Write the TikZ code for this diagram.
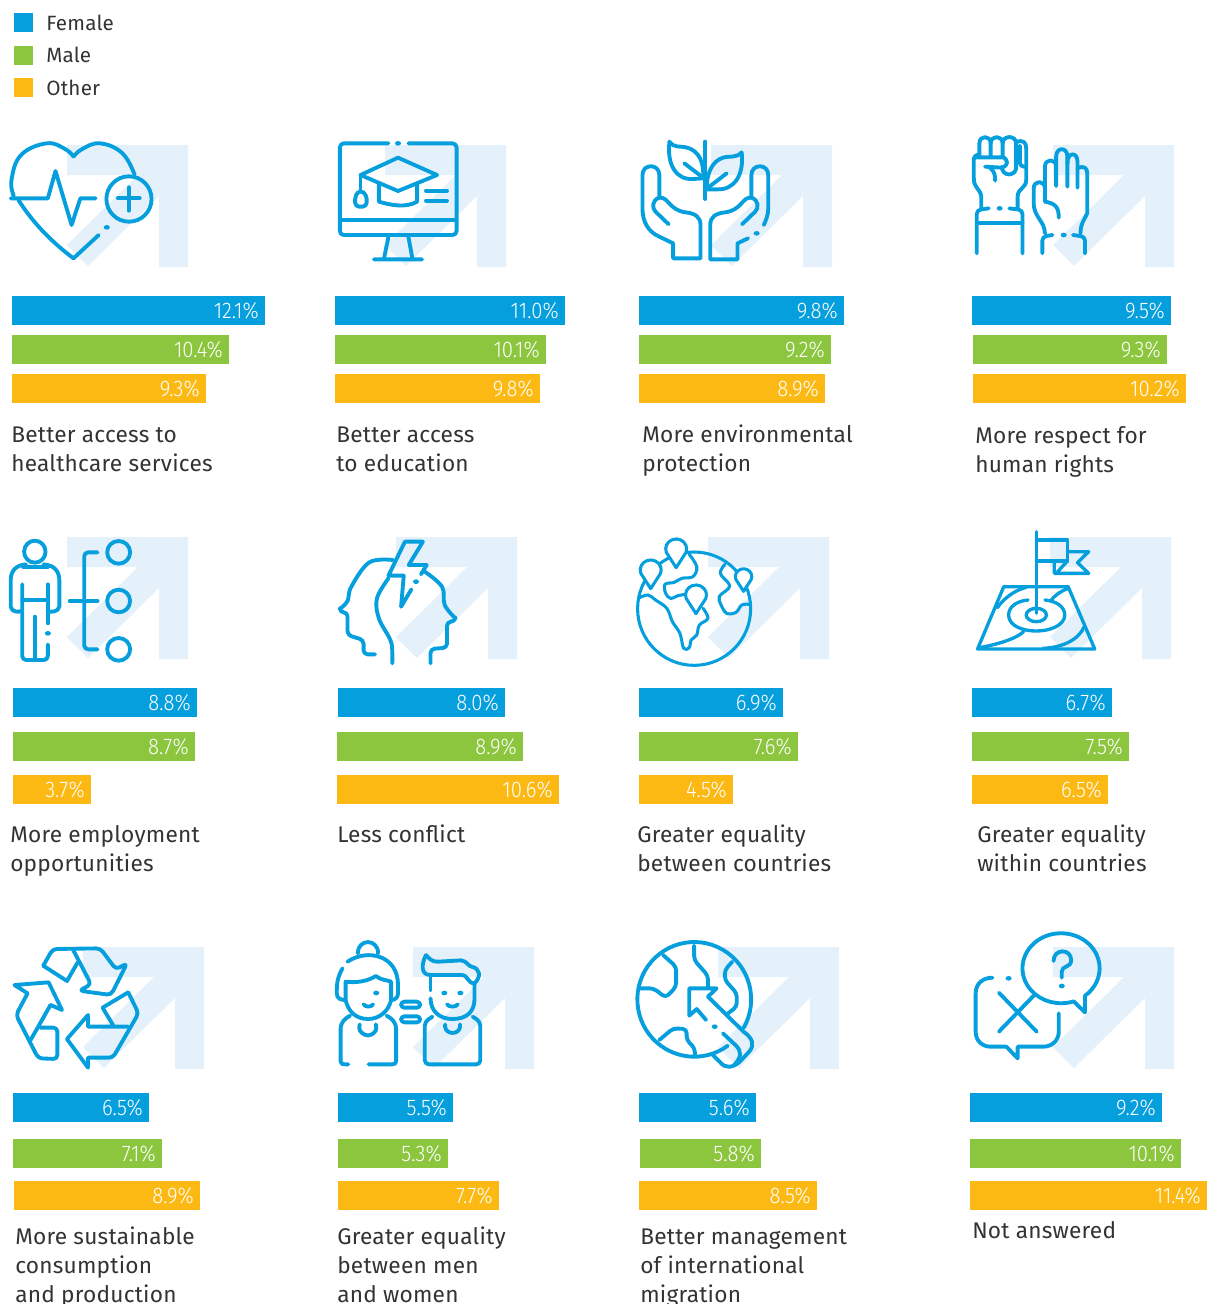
\documentclass[tikz,border=0pt]{standalone}
\usepackage{fontspec}
\setmainfont{Fira Sans}[LetterSpace=1]
\newfontfamily\pctfont{Fira Sans Light}[FakeStretch=0.9]
\definecolor{cblue}{HTML}{069FDE}
\definecolor{cgreen}{HTML}{8CC63F}
\definecolor{corange}{HTML}{FDB913}
\definecolor{cback}{HTML}{E5F1FA}
\definecolor{ctext}{HTML}{333333}
\tikzset{
 ico/.style={draw=cblue,line width=2.9pt,line cap=round,line join=round},
 rc/.style={rounded corners=3pt},
 pct/.style={text=white,inner sep=0pt,font=\pctfont\fontsize{17}{18}\selectfont},
 lbl/.style={text=ctext,inner sep=0pt,align=left,font=\fontsize{17}{21.75}\selectfont},
 leg/.style={text=ctext,inner sep=0pt,font=\fontsize{15.5}{18}\selectfont},
 z1/.style={shift={(0,#1)},x=0.28703pt,y=-0.25pt},
 z2/.style={shift={(620,#1)},x=0.28079pt,y=-0.25pt},
}
\newcommand{\bgarrow}[2]{\fill[cback,shift={(#1,#2)}] (0,0)--(121,0)--(121,122)--(92,122)--(92,51)--(21,121)--(0,100)--(71,30)--(0,30)--cycle;}
\newcommand{\pctbar}[6]{\fill[#1] (#2,#4) rectangle (#3,#4+29);\node[pct,anchor=base east] (#6) at (#3-6,#4+22) {#5};}
\newcommand{\lbltext}[4]{\node[lbl,anchor=north west] (#1) at (#2-1,#3-18.67) {\rule{0pt}{14pt}#4};}
\newcommand{\mappin}[4]{\draw[ico,fill=white] (#1,#2+#4) -- (#1-0.94*#3,#2+0.36*#3) arc[start angle=160,end angle=380,x radius=#3,y radius=#3*1.07] -- cycle;}
\newcommand{\idot}[2]{\fill[cblue] (#1,#2) ellipse[x radius=8,y radius=7];}
\begin{document}
\begin{tikzpicture}[x=0.75pt,y=-0.75pt]
\useasboundingbox (0,0) rectangle (1207,1304);
\clip (0,0) rectangle (1207,1304);
% legend
\fill[cblue] (14,13) rectangle (33,32);
\fill[cgreen] (14,46) rectangle (33,65);
\fill[corange] (14,78) rectangle (33,97);
\node[leg,anchor=base west] (lf) at (46,30) {Female};
\node[leg,anchor=base west] (lm) at (46,62) {Male};
\node[leg,anchor=base west] (lo) at (46,95) {Other};
% arrows
\bgarrow{67}{145}\bgarrow{385}{145}\bgarrow{711}{145}\bgarrow{1053}{145}
\bgarrow{67}{537}\bgarrow{396}{537}\bgarrow{708}{537}\bgarrow{1050}{537}
\bgarrow{83}{947}\bgarrow{413}{947}\bgarrow{718}{947}\bgarrow{1053}{947}
% row 1
\pctbar{cblue}{12}{265}{296}{12.1\%}{a1}\pctbar{cgreen}{12}{229}{335}{10.4\%}{a2}\pctbar{corange}{12}{206}{374}{9.3\%}{a3}
\pctbar{cblue}{335}{565}{296}{11.0\%}{b1}\pctbar{cgreen}{335}{546}{335}{10.1\%}{b2}\pctbar{corange}{335}{540}{374}{9.8\%}{b3}
\pctbar{cblue}{639}{844}{296}{9.8\%}{c1}\pctbar{cgreen}{639}{831}{335}{9.2\%}{c2}\pctbar{corange}{639}{825}{374}{8.9\%}{c3}
\pctbar{cblue}{972}{1171}{296}{9.5\%}{d1}\pctbar{cgreen}{973}{1167}{335}{9.3\%}{d2}\pctbar{corange}{973}{1186}{374}{10.2\%}{d3}
% row 2
\pctbar{cblue}{13}{197}{688}{8.8\%}{e1}\pctbar{cgreen}{13}{195}{732}{8.7\%}{e2}\pctbar{corange}{13}{91}{775}{3.7\%}{e3}
\pctbar{cblue}{338}{505}{688}{8.0\%}{f1}\pctbar{cgreen}{337}{523}{732}{8.9\%}{f2}\pctbar{corange}{337}{559}{775}{10.6\%}{f3}
\pctbar{cblue}{639}{783}{688}{6.9\%}{g1}\pctbar{cgreen}{639}{798}{732}{7.6\%}{g2}\pctbar{corange}{639}{733}{775}{4.5\%}{g3}
\pctbar{cblue}{972}{1112}{688}{6.7\%}{h1}\pctbar{cgreen}{972}{1129}{732}{7.5\%}{h2}\pctbar{corange}{972}{1108}{775}{6.5\%}{h3}
% row 3
\pctbar{cblue}{13}{149}{1093}{6.5\%}{i1}\pctbar{cgreen}{13}{162}{1139}{7.1\%}{i2}\pctbar{corange}{14}{200}{1181}{8.9\%}{i3}
\pctbar{cblue}{338}{453}{1093}{5.5\%}{j1}\pctbar{cgreen}{338}{448}{1139}{5.3\%}{j2}\pctbar{corange}{338}{499}{1181}{7.7\%}{j3}
\pctbar{cblue}{639}{756}{1093}{5.6\%}{k1}\pctbar{cgreen}{640}{761}{1139}{5.8\%}{k2}\pctbar{corange}{639}{817}{1181}{8.5\%}{k3}
\pctbar{cblue}{970}{1162}{1093}{9.2\%}{l1}\pctbar{cgreen}{970}{1181}{1139}{10.1\%}{l2}\pctbar{corange}{970}{1207}{1181}{11.4\%}{l3}
% labels
\lbltext{ta}{12}{442}{Better access to\\healthcare services}
\lbltext{tb}{337}{442}{Better access\\to education}
\lbltext{tc}{643}{442}{More environmental\\protection}
\lbltext{td}{976}{443}{More respect for\\human rights}
\lbltext{te}{11}{842}{More employment\\opportunities}
\lbltext{tf}{338}{842}{Less conflict}
\lbltext{tg}{638}{842}{Greater equality\\between countries}
\lbltext{th}{978}{842}{Greater equality\\within countries}
\lbltext{ti}{16}{1244}{More sustainable\\consumption\\and production}
\lbltext{tj}{338}{1244}{Greater equality\\between men\\and women}
\lbltext{tk}{641}{1244}{Better management\\of international\\migration}
\lbltext{tl}{973}{1238}{Not answered}
% icon 1 heart
\begin{scope}[z1=125]
\draw[ico] plot[smooth,tension=.7] coordinates {(36,213)(30,165)(55,90)(122,55)(170,72)(192,95)};
\draw[ico] plot[smooth,tension=.7] coordinates {(192,95)(215,72)(262,55)(320,85)(352,150)};
\draw[ico] (48,225) .. controls (90,300) and (140,355) .. (192,400) -- (258,330);
\idot{279}{307}
\draw[ico] (28,220)--(125,220)--(145,138)--(187,300)--(210,220)--(250,220);
\draw[ico] (337,222) ellipse[x radius=59,y radius=68];
\draw[ico] (308,220)--(365,220) (337,187)--(337,257);
% icon 2 monitor
\draw[ico,rc] (1015,55)--(888,55)--(888,330)--(1193,330)--(1193,55)--(1067,55);
\idot{1040}{55}
\draw[ico] (888,285)--(1193,285) (1015,335)--(1003,403) (1067,335)--(1078,403) (977,403)--(1103,403);
\draw[ico] (1040,98)--(1142,150)--(1040,198)--(942,150)--cycle;
\draw[ico] (990,178)--(990,230) .. controls (1020,240) and (1060,250) .. (1090,230) -- (1090,178);
\draw[ico] (942,150)--(942,195);
\draw[ico,rc] (942,195)--(928,210)--(928,245)--(958,245)--(958,210)--cycle;
\draw[ico] (1113,197)--(1168,197) (1113,227)--(1168,227);
\end{scope}
% icon 3 hands, 4 fists
\begin{scope}[z2=125]
\draw[ico] (213,400)--(142,400)--(142,355)--(105,335) .. controls (75,320) and (60,290) .. (60,250) -- (60,150) .. controls (60,115) and (105,115) .. (105,150) -- (105,215);
\draw[ico] (105,218) .. controls (85,225) and (85,250) .. (95,260) -- (130,298);
\draw[ico] (105,218) .. controls (130,215) and (130,255) .. (175,262) .. controls (200,265) and (215,275) .. (215,300) -- (215,400);
\draw[ico] (241,400) -- (241,300) .. controls (241,275) and (256,265) .. (281,262) .. controls (326,255) and (326,215) .. (351,218) -- (351,150) .. controls (351,115) and (396,115) .. (396,150) -- (396,250) .. controls (396,270) and (390,285) .. (384,300);
\draw[ico] (351,218) .. controls (371,225) and (371,250) .. (361,260) -- (326,298);
\draw[ico] (241,403)--(314,403)--(314,355)--(342,340);
\idot{365}{325}
\draw[ico] (228,50)--(228,222);
\draw[ico] (132,50) .. controls (145,70) and (160,62) .. (180,68) .. controls (210,78) and (225,110) .. (222,160) -- (195,162) .. controls (150,165) and (125,120) .. (132,50);
\draw[ico] (172,115)--(222,158);
\draw[ico] (325,82) .. controls (310,100) and (295,92) .. (275,98) .. controls (245,108) and (230,150) .. (232,193) -- (260,193) .. controls (305,195) and (332,150) .. (325,82);
\draw[ico] (285,145)--(235,188);
% fists
\draw[ico,rc] (953,385)--(953,255)--(985,250);
\draw[ico,rc] (1040,250)--(1075,255)--(1075,385);
\draw[ico] (953,293)--(1075,293);
\idot{1014}{250}
\draw[ico] (965,248)--(965,215) .. controls (962,190) and (945,190) .. (945,160) -- (945,105) .. controls (945,95) and (950,90) .. (960,88);
\draw[ico] (960,92)--(960,55) .. controls (960,30) and (990,30) .. (990,55) -- (990,92);
\draw[ico] (990,55) .. controls (990,30) and (1022,30) .. (1022,55) -- (1022,92);
\draw[ico] (1022,55) .. controls (1022,30) and (1058,30) .. (1058,55) -- (1058,130) .. controls (1055,155) and (1020,155) .. (1020,125);
\draw[ico] (1060,50) .. controls (1075,45) and (1085,50) .. (1085,70) -- (1085,165) .. controls (1085,190) and (1062,190) .. (1062,215) -- (1062,248);
\draw[ico,rc] (1068,62)--(1068,125)--(1085,125);
\draw[ico] (948,97)--(1025,97) .. controls (1035,105) and (1040,120) .. (1020,128) -- (975,125);
\draw[ico] (990,130) .. controls (1000,140) and (1002,150) .. (1002,167);
% right hand
\draw[ico,rc] (1128,385)--(1128,335)--(1155,330);
\draw[ico,rc] (1210,330)--(1242,335)--(1242,385);
\idot{1185}{330}
\draw[ico] (1135,325) .. controls (1135,290) and (1105,275) .. (1105,235) -- (1105,190) .. controls (1105,165) and (1135,165) .. (1135,190) -- (1135,230) .. controls (1165,235) and (1172,250) .. (1172,278);
\draw[ico] (1135,190)--(1135,125) .. controls (1135,100) and (1165,100) .. (1165,125) -- (1165,183);
\draw[ico] (1165,125)--(1165,95) .. controls (1165,65) and (1195,65) .. (1195,95) -- (1195,185);
\draw[ico] (1195,115) .. controls (1195,80) and (1222,80) .. (1222,110) -- (1222,188);
\draw[ico] (1222,130) .. controls (1240,120) and (1248,130) .. (1248,145) -- (1248,265) .. controls (1240,285) and (1230,295) .. (1230,325);
\end{scope}
% icon 5 person, 6 heads
\begin{scope}[z1=525]
\draw[ico] (91,80) ellipse[x radius=28,y radius=33];
\draw[ico] (68,118) .. controls (40,120) and (28,140) .. (28,165) -- (28,245) .. controls (30,262) and (50,262) .. (55,258);
\draw[ico] (114,118) .. controls (142,120) and (155,140) .. (155,165) -- (155,245) .. controls (152,262) and (132,262) .. (125,258);
\draw[ico] (60,125)--(125,125);
\draw[ico,rc] (58,178)--(58,405)--(125,405)--(125,358);
\draw[ico] (125,178)--(125,295) (58,225)--(125,225) (91,275)--(91,405);
\idot{125}{325}
\draw[ico,rc] (255,82)--(220,82)--(220,373)--(255,373);
\draw[ico] (182,228)--(255,228);
\draw[ico] (310,82) ellipse[x radius=30,y radius=34];
\draw[ico] (310,228) ellipse[x radius=30,y radius=34];
\draw[ico] (310,373) ellipse[x radius=30,y radius=34];
% heads
\draw[ico] (1100,148)--(1115,120)--(1068,120)--(1105,50)--(1058,50)--(1015,152)--(1055,152)--(1048,245)--(1075,193);
\idot{1087}{170}
\draw[ico] plot[smooth,tension=.6] coordinates {(1027,105)(965,112)(918,185)(908,228)(888,252)};
\draw[ico,rc] (888,252)--(888,262)--(908,262)--(908,330)--(950,345)--(950,388)--(980,388);
\draw[ico] plot[smooth,tension=.6] coordinates {(1015,160)(985,220)(990,280)(1020,345)(1025,380)(1025,415)};
\draw[ico] plot[smooth,tension=.6] coordinates {(1110,140)(1155,185)(1162,240)(1190,280)};
\draw[ico,rc] (1190,280)--(1188,290)--(1168,290)--(1168,368)--(1125,372)--(1125,415);
\end{scope}
% icon 7 globe, 8 flag
\begin{scope}[z2=525]
\draw[ico,line width=2.3pt] (198,251) ellipse[x radius=151,y radius=170];
\draw[ico,line width=2.3pt] plot[smooth,tension=.6] coordinates {(52,218)(75,210)(95,225)(125,250)(140,290)(160,325)(170,370)(185,368)(190,345)(205,330)(212,300)(235,280)(222,250)};
\draw[ico,line width=2.3pt] plot[smooth,tension=.6] coordinates {(185,88)(205,125)(195,155)(165,160)(145,172)(120,178)(122,205)(135,220)(155,212)(175,208)};
\draw[ico,line width=2.3pt] plot[smooth,tension=.6] coordinates {(280,118)(268,145)(290,175)(290,190)(265,215)(270,240)(285,265)(310,262)(325,240)(345,238)};
\begin{scope}[ico/.append style={line width=2.3pt}]
\mappin{150}{72}{28}{56}
\mappin{82}{135}{28}{56}
\mappin{330}{155}{22}{44}
\mappin{203}{210}{28}{56}
\end{scope}
% flag
\draw[ico,line width=2.5pt] (1112,20)--(1112,265);
\draw[ico,line width=2.5pt] (1112,45)--(1195,45)--(1195,108)--(1112,108);
\draw[ico,line width=2.5pt] (1195,80)--(1252,80)--(1222,113)--(1252,145)--(1160,145)--(1160,108) (1165,145)--(1195,108);
\draw[ico,line width=2.5pt] (1025,185)--(1197,185)--(1268,372)--(955,372)--cycle;
\draw[ico,line width=2.5pt] (1112,270) ellipse[x radius=27,y radius=20];
\draw[ico,line width=2.5pt] (1090,225) .. controls (1060,228) and (1038,245) .. (1038,270) .. controls (1038,305) and (1080,318) .. (1112,318) .. controls (1150,318) and (1188,300) .. (1188,270) .. controls (1188,245) and (1165,228) .. (1135,225);
\draw[ico,line width=2.5pt] (1008,248) .. controls (1025,220) and (1055,195) .. (1085,187);
\draw[ico,line width=2.5pt] (1197,190) .. controls (1175,200) and (1160,212) .. (1150,228);
\draw[ico,line width=2.5pt] (960,368) .. controls (1010,358) and (1060,340) .. (1078,320);
\draw[ico,line width=2.5pt] (1240,305) .. controls (1225,345) and (1180,368) .. (1130,370);
\end{scope}
% icon 9 recycle, 10 people
\begin{scope}[z1=925]
\draw[ico,rc] (113,122)--(138,72)--(262,70)--(303,133)--(332,115)--(290,210)--(207,197)--(238,178)--(190,72);
\draw[ico] (113,122)--(175,168)--(203,112);
\draw[ico] (132,240)--(162,255)--(127,172)--(38,180)--(72,205);
\draw[ico,rc] (72,205)--(42,270)--(100,400)--(150,402)--(150,308)--(105,308);
\draw[ico] (132,240)--(80,345);
\draw[ico] (268,248)--(335,202);
\draw[ico,rc] (335,202)--(362,265)--(295,398)--(230,398);
\draw[ico] (230,398)--(230,428)--(175,342)--(230,270)--(230,305)--(335,305) (268,248)--(298,305);
% woman
\draw[ico] (935,85) .. controls (935,40) and (988,40) .. (988,85);
\draw[ico] (908,110) .. controls (960,70) and (1040,90) .. (1040,180) -- (1040,205) .. controls (1040,220) and (1030,225) .. (1022,225);
\draw[ico] (895,130) .. controls (880,160) and (880,180) .. (880,205) .. controls (880,220) and (890,225) .. (902,225);
\draw[ico] (903,225)--(903,170) .. controls (940,175) and (965,165) .. (982,153) .. controls (995,165) and (1010,165) .. (1022,170) -- (1022,225) .. controls (1015,260) and (990,282) .. (962,282) .. controls (930,282) and (910,260) .. (903,225);
\draw[ico] (915,272) .. controls (900,280) and (890,295) .. (890,310) -- (890,410) .. controls (890,418) and (895,418) .. (910,418);
\draw[ico] (963,418)--(1025,418) .. controls (1032,418) and (1035,415) .. (1035,408) -- (1035,310) .. controls (1035,295) and (1025,280) .. (1010,272);
\draw[ico,rc] (940,298)--(937,318)--(962,335)--(985,318)--(982,298);
\idot{983}{204}
\draw[ico] (950,238) .. controls (955,247) and (970,247) .. (975,238);
\draw[ico,rounded corners=2.5pt] (1048,230) rectangle (1098,248);
\draw[ico,rounded corners=2.5pt] (1048,274) rectangle (1098,292);
% man
\draw[ico] (1113,90) .. controls (1125,105) and (1130,110) .. (1145,110) -- (1205,106) .. controls (1220,108) and (1225,125) .. (1232,125) .. controls (1255,130) and (1258,155) .. (1240,175) .. controls (1220,175) and (1225,150) .. (1205,150) -- (1125,150) .. controls (1100,150) and (1100,120) .. (1113,90);
\draw[ico] (1125,150)--(1125,195);
\draw[ico] (1125,220) .. controls (1125,260) and (1150,282) .. (1182,282) .. controls (1220,282) and (1240,260) .. (1240,220) -- (1240,175);
\idot{1161}{204}\idot{1203}{204}
\draw[ico] (1168,238) .. controls (1173,247) and (1191,247) .. (1196,238);
\draw[ico,rc] (1130,275)--(1110,290)--(1110,418)--(1255,418)--(1255,290)--(1235,275);
\draw[ico] (1163,298) -- (1163,305) .. controls (1165,330) and (1200,330) .. (1202,305) -- (1202,298);
\end{scope}
% icon 11 globe, 12 bubbles
\begin{scope}[z2=925]
\draw[ico] (330,309) arc[start angle=30,end angle=-306,x radius=152,y radius=172];
\draw[ico] (235,215)--(330,320) .. controls (355,340) and (360,360) .. (345,380) -- (320,410) .. controls (300,430) and (280,430) .. (268,412) -- (248,390);
\draw[ico] (275,325)--(310,362) .. controls (325,380) and (325,395) .. (305,420);
\draw[ico] (230,285)--(205,252)--(185,272)--(185,190)--(258,190)--(235,215);
\idot{253}{305}
\draw[ico,rc] (198,62)--(198,105)--(235,152)--(235,190);
\draw[ico,rc] (115,90)--(150,125)--(150,185)--(122,218)--(90,190)--(55,190);
\draw[ico,rc] (300,110)--(280,135)--(280,165)--(312,205)--(312,245)--(285,268);
\draw[ico,rc] (105,345)--(142,310)--(178,312)--(178,345)--(200,370)--(200,390);
% bubbles
\draw[ico] (1242,212) arc[start angle=51.6,end angle=-289,x radius=103,y radius=105] -- (1242,262) -- cycle;
\draw[ico] (1158,108) .. controls (1158,70) and (1205,70) .. (1205,105) .. controls (1205,130) and (1180,120) .. (1180,140) -- (1180,158);
\idot{1180}{183}
\draw[ico] (1012,203)--(1113,320) (1105,212)--(1012,320);
\draw[ico] (995,158) .. controls (970,158) and (950,175) .. (950,205) -- (950,320) .. controls (950,350) and (970,365) .. (990,365) -- (1032,365) -- (1062,400) -- (1062,365) -- (1130,365) .. controls (1155,365) and (1172,345) .. (1172,320) -- (1172,265);
\idot{1038}{160}
\end{scope}
\end{tikzpicture}
\end{document}
